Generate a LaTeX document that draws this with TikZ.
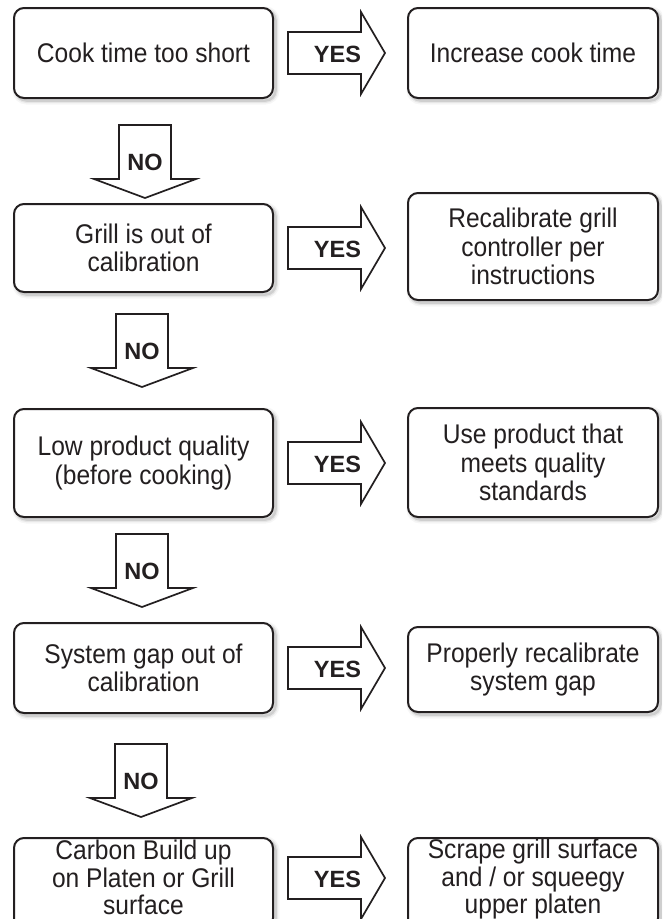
\documentclass[tikz,border=0pt]{standalone}
\usepackage{fontspec}
\setmainfont{Liberation Sans}
\newfontfamily\boxfont{Liberation Sans}[FakeStretch=0.91]
\usetikzlibrary{calc,shadows}
\definecolor{ink}{HTML}{231F20}
\tikzset{
  softshadow/.style={
    general shadow={draw=black, line width=8pt, opacity=0.035, shadow xshift=2.5pt, shadow yshift=-2.5pt},
    general shadow={draw=black, line width=5pt, opacity=0.06, shadow xshift=2.5pt, shadow yshift=-2.5pt},
    general shadow={draw=black, line width=2.5pt, opacity=0.1, shadow xshift=2.5pt, shadow yshift=-2.5pt}},
  boxtext/.style={align=center, text=ink, font=\boxfont\fontsize{27}{28.5}\selectfont, inner sep=0pt},
  tighttext/.style={boxtext, font=\boxfont\fontsize{27}{27.5}\selectfont},
  box/.style={draw=ink, line width=2pt, fill=white, rounded corners=10pt, boxtext, softshadow},
  lbox/.style={box, minimum width=259pt},
  rbox/.style={box, minimum width=250pt},
  blockarrow/.style={draw=ink, line width=1.7pt, fill=white, line join=miter},
  arrowlabel/.style={font=\bfseries\fontsize{23.5}{26}\selectfont, text=ink, inner sep=0pt}
}
% YES arrow from point #1 (left end, centre line) to right box #2, label node #3
\newcommand\yesarrow[3]{%
  \draw[blockarrow] ($(#1)+(14,-21)$) -- ($(#1)+(87,-21)$) -- ($(#1)+(87,-41)$)
    -- ($(#2.west |- #1)+(-22,0)$) -- ($(#1)+(87,41)$) -- ($(#1)+(87,21)$)
    -- ($(#1)+(14,21)$) -- cycle;
  \node[arrowlabel] (#3) at ($(#1)+(63.5,1)$) {YES};}
% NO arrow below box #1: gap #2, x offset #3, label node #4
\newcommand\noarrow[4]{%
  \coordinate (#4t) at ($(#1.south)+(#3,#2)$);
  \draw[blockarrow] ($(#4t)+(-26,0)$) -- ($(#4t)+(26,0)$) -- ($(#4t)+(26,54)$) -- ($(#4t)+(51,54)$)
    -- ($(#4t)+(0,73)$) -- ($(#4t)+(-51,54)$) -- ($(#4t)+(-26,54)$) -- cycle;
  \node[arrowlabel] (#4) at ($(#4t)+(0,37)$) {NO};}
\begin{document}
\begin{tikzpicture}[x=1pt, y=-1pt]
\useasboundingbox (0,0) rectangle (662,919);
\fill[white] (0,0) rectangle (662,919);
\clip (0,0) rectangle (662,919);

% left column
\node[lbox, minimum height=90pt]  (L1) at (143.5,53)  {Cook time too short};
\node[lbox, minimum height=88pt]  (L2) at (143.5,248) {Grill is out of\\calibration};
\node[lbox, minimum height=108pt] (L3) at (143.5,463) {Low product quality\\(before cooking)};
\node[lbox, minimum height=90pt]  (L4) at (143.5,668) {System gap out of\\calibration};
\node[lbox, minimum height=90pt, anchor=north] (L5) at (143.5,837) {};
\node[tighttext] (L5t) at (143.5,877.5) {Carbon Build up\\on Platen or Grill\\surface};

% right column
\node[rbox, minimum height=90pt]  (R1) at (533,53)    {Increase cook time};
\node[rbox, minimum height=107pt] (R2) at (533,246.5) {Recalibrate grill\\controller per\\instructions};
\node[rbox, minimum height=109pt] (R3) at (533,462.5) {Use product that\\meets quality\\standards};
\node[rbox, minimum height=85pt]  (R4) at (533,669.5) {Properly recalibrate\\system gap};
\node[rbox, minimum height=90pt, anchor=north] (R5) at (533,837) {};
\node[tighttext] (R5t) at (533,879.5) {Scrape grill surface\\and / or squeegy\\upper platen};

% YES arrows
\coordinate (L5e) at ($(L5.north east)+(0,41)$);
\yesarrow{L1.east}{R1}{Y1}
\yesarrow{L2.east}{R2}{Y2}
\yesarrow{L3.east}{R3}{Y3}
\yesarrow{L4.east}{R4}{Y4}
\yesarrow{L5e}{R5}{Y5}

% NO arrows
\noarrow{L1}{26}{1.5}{N1}
\noarrow{L2}{21}{-1.5}{N2}
\noarrow{L3}{16}{-1.5}{N3}
\noarrow{L4}{30}{-2.5}{N4}
\end{tikzpicture}
\end{document}
